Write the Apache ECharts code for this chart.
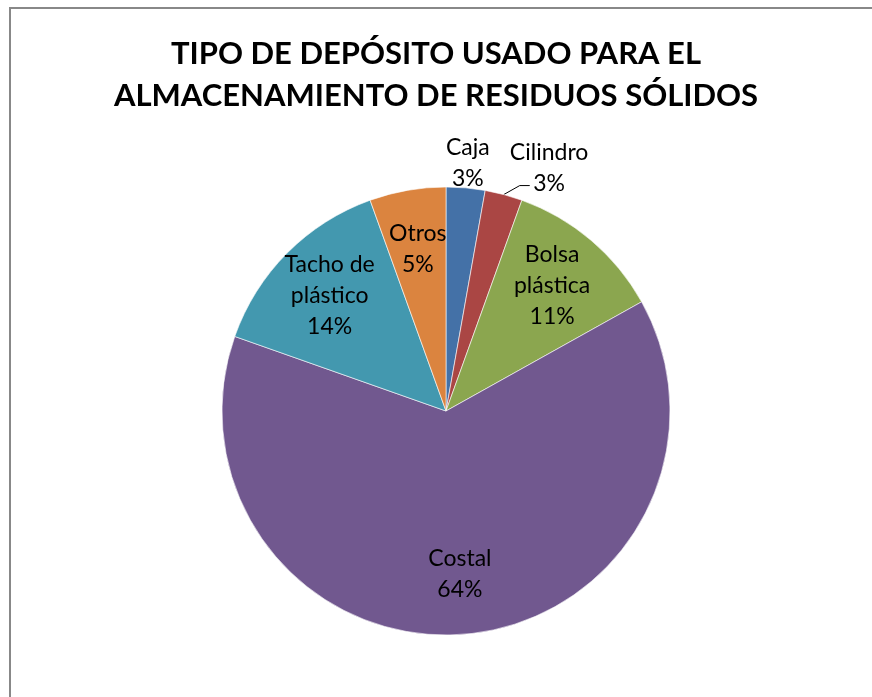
<!DOCTYPE html>
<html>
<head>
<meta charset="utf-8">
<script src="https://cdn.jsdelivr.net/npm/echarts@6/dist/echarts.min.js"></script>
<style>
  html, body { margin: 0; padding: 0; background: #fff; }
  #chart { width: 872px; height: 697px; }
</style>
</head>
<body>
<div id="chart"></div>
<script>
// data (percent of households)
const categories = ['Caja', 'Cilindro', 'Bolsa\npl\u00e1stica', 'Costal', 'Tacho de\npl\u00e1stico', 'Otros']
const values = [2.8, 2.7, 11.4, 63.5, 14.1, 5.5]
const colors = ['#4471a7', '#aa4644', '#8ba64f', '#71588f', '#4398af', '#db843f']

const chart = echarts.init(document.getElementById('chart'))

const center = [446, 411]

const pieData = categories.map((name, i) => ({
  name: name,
  value: values[i],
  itemStyle: { color: colors[i] }
}))

// labels inside the slices, Cilindro outside with a leader line
const labelData = categories.map((name, i) => {
  const item = { name: name, value: values[i] }
  if (i === 0) {
    item.label = { show: false }
  }
  if (i === 1) {
    item.label = { position: 'outside' }
    item.labelLine = { show: true }
  }
  return item
})

// Caja sits just above its slice
const topData = categories.map((name, i) => ({
  name: name,
  value: values[i],
  label: { show: i === 0 }
}))

function labelText(p) {
  const lines = p.name.split('\n').concat([p.percent + '%'])
  return lines.map(s => '{t|' + s + '}').join('\n')
}

const labelSeries = (radius, data) => ({
  type: 'pie',
  center: center,
  radius: radius,
  startAngle: 90,
  clockwise: true,
  silent: true,
  avoidLabelOverlap: false,
  itemStyle: { color: 'rgba(0,0,0,0)' },
  percentPrecision: 0,
  label: {
    show: true,
    position: 'inside',
    formatter: labelText,
    rich: {
      t: {
        fontFamily: 'Lato',
        fontSize: 23,
        lineHeight: 31,
        color: '#000',
        align: 'center'
      }
    }
  },
  labelLine: {
    show: false,
    length: 12,
    length2: 8,
    lineStyle: { color: '#000', width: 1 }
  },
  data: data
})

const mainLabels = labelSeries([98, 224], labelData)
mainLabels.labelLayout = function (p) {
  if (p.dataIndex === 1 && p.labelLinePoints) {
    // leader goes up-right from the slice edge, then flat to the "3%"
    const a = p.labelLinePoints[0]
    const b = [a[0] + 16, a[1] - 9]
    const c = [b[0] + 10, b[1]]
    return { dx: -10, dy: -15, labelLinePoints: [a, b, c] }
  }
  return {}
}

chart.setOption({
  backgroundColor: '#fff',
  animation: false,
  title: {
    text: 'TIPO DE DEP\u00d3SITO USADO PARA EL\nALMACENAMIENTO DE RESIDUOS S\u00d3LIDOS',
    left: 'center',
    top: 33,
    padding: 0,
    textStyle: {
      fontFamily: 'Lato',
      fontWeight: 'bold',
      fontSize: 31,
      lineHeight: 42,
      color: '#000'
    }
  },
  graphic: [{
    type: 'rect',
    shape: { x: 10, y: 8, width: 900, height: 720 },
    style: { fill: 'none', stroke: '#888', lineWidth: 2 },
    silent: true
  }],
  series: [
    {
      type: 'pie',
      center: center,
      radius: 224,
      startAngle: 90,
      clockwise: true,
      silent: true,
      label: { show: false },
      labelLine: { show: false },
      itemStyle: { borderColor: '#ffffff', borderWidth: 0.6 },
      data: pieData
    },
    mainLabels,
    labelSeries([228, 264], topData)
  ]
})
</script>
</body>
</html>
